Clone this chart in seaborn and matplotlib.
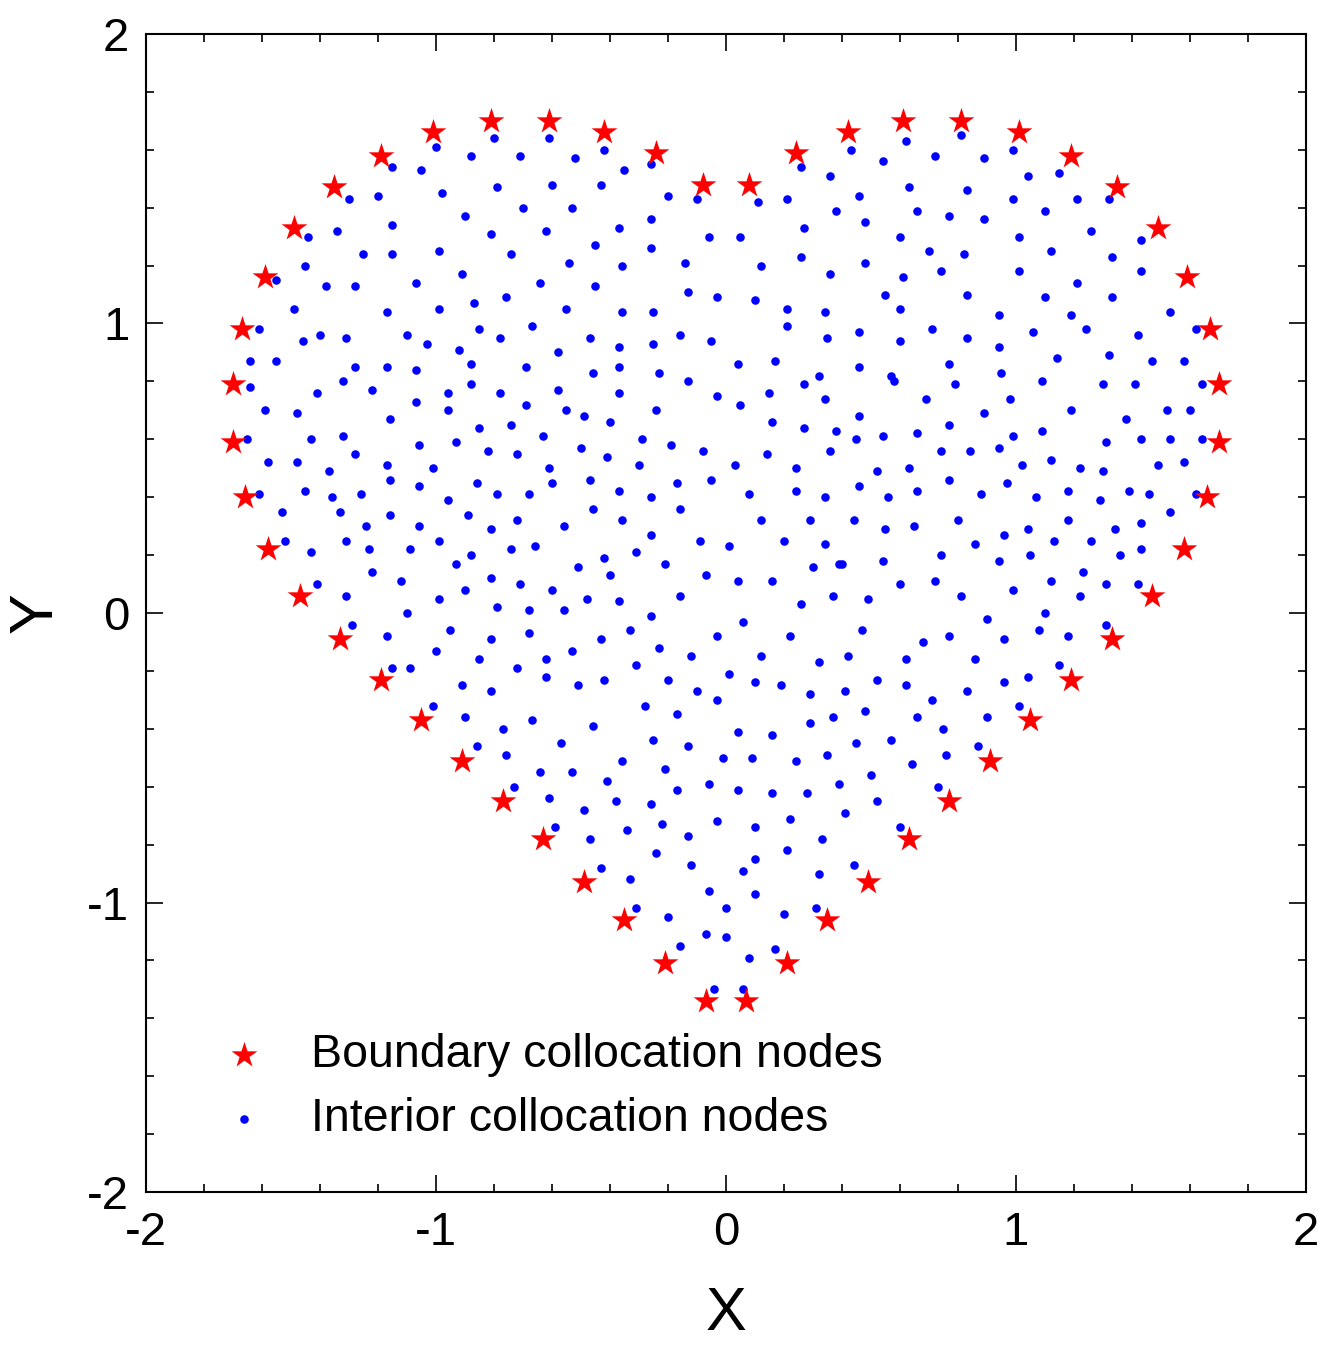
import numpy as np
import pandas as pd
import matplotlib
matplotlib.use("Agg")
import matplotlib.pyplot as plt
import seaborn as sns
from matplotlib.ticker import MultipleLocator

# boundary collocation nodes (red stars)
boundary_x = [-0.07, 0.07, -0.21, 0.21, -0.35, 0.35, -0.49, 0.49, -0.63, 0.63,
              -0.77, 0.77, -0.91, 0.91, -1.05, 1.05, -1.19, 1.19, -1.33, 1.33,
              -1.47, 1.47, -1.58, 1.58, -1.66, 1.66, -1.70, 1.70, -1.70, 1.70,
              -1.67, 1.67, -1.59, 1.59, -1.49, 1.49, -1.35, 1.35, -1.19, 1.19,
              -1.01, 1.01, -0.81, 0.81, -0.61, 0.61, -0.42, 0.42, -0.24, 0.24,
              -0.08, 0.08]
boundary_y = [-1.34, -1.34, -1.21, -1.21, -1.06, -1.06, -0.93, -0.93, -0.78, -0.78,
              -0.65, -0.65, -0.51, -0.51, -0.37, -0.37, -0.23, -0.23, -0.09, -0.09,
              0.06, 0.06, 0.22, 0.22, 0.40, 0.40, 0.59, 0.59, 0.79, 0.79,
              0.98, 0.98, 1.16, 1.16, 1.33, 1.33, 1.47, 1.47, 1.58, 1.58,
              1.66, 1.66, 1.70, 1.70, 1.70, 1.70, 1.66, 1.66, 1.59, 1.59,
              1.48, 1.48]

# interior collocation nodes (blue dots), approximate readings
interior = [
    (-1.0, 1.61), (-0.80, 1.64), (-0.61, 1.64), (-0.42, 1.60), (-0.88, 1.58), (-0.71, 1.58),
    (-0.52, 1.57), (-0.26, 1.55), (0.62, 1.63), (0.81, 1.65), (0.43, 1.60), (0.99, 1.60),
    (0.54, 1.56), (0.72, 1.58), (0.89, 1.57), (0.26, 1.54),
    (-1.15, 1.54), (-1.05, 1.53), (-0.98, 1.45), (-0.79, 1.47), (-0.60, 1.48), (-0.43, 1.48),
    (-0.35, 1.53), (-1.30, 1.43), (-1.20, 1.44), (-0.20, 1.44), (-0.10, 1.43),
    (0.11, 1.42), (0.21, 1.43), (0.36, 1.51), (0.46, 1.44), (0.63, 1.47), (0.83, 1.46),
    (1.04, 1.51), (1.15, 1.52), (1.21, 1.43), (1.32, 1.43), (0.99, 1.43),
    (-1.44, 1.30), (-1.34, 1.32), (-1.15, 1.34), (-0.90, 1.37), (-0.70, 1.40), (-0.53, 1.40),
    (-0.37, 1.33), (-0.26, 1.36), (-0.06, 1.30), (-0.62, 1.32), (-0.81, 1.31), (-0.99, 1.25),
    (-1.15, 1.24), (-1.25, 1.24), (-0.74, 1.24), (-0.45, 1.27), (-0.26, 1.26), (0.05, 1.30),
    (0.12, 1.20), (0.27, 1.33), (0.38, 1.39), (0.48, 1.35), (0.60, 1.30), (0.66, 1.39),
    (0.77, 1.37), (0.89, 1.36), (1.01, 1.30), (1.10, 1.39), (1.26, 1.32), (1.33, 1.23),
    (1.43, 1.29), (0.26, 1.23), (0.48, 1.21), (0.70, 1.25), (0.82, 1.24), (1.12, 1.25),
    (-1.55, 1.15), (-1.45, 1.20), (-1.38, 1.13), (-1.28, 1.13), (-1.07, 1.14), (-0.91, 1.17),
    (-0.64, 1.14), (-0.54, 1.21), (-0.45, 1.13), (-0.36, 1.20), (-0.14, 1.21), (-0.03, 1.09),
    (-0.13, 1.11), (-0.87, 1.07), (-0.76, 1.09), (-0.99, 1.05), (-1.17, 1.04), (-1.49, 1.05),
    (-0.55, 1.05), (-0.25, 1.04), (-0.36, 1.04),
    (0.10, 1.08), (0.21, 1.05), (0.36, 1.17), (0.61, 1.16), (0.55, 1.10), (0.74, 1.18),
    (0.83, 1.10), (1.01, 1.18), (1.10, 1.09), (1.21, 1.14), (1.43, 1.18), (1.33, 1.09),
    (1.53, 1.04), (0.34, 1.04), (0.60, 1.05), (0.94, 1.03), (1.19, 1.03),
    (-1.61, 0.98), (-1.64, 0.87), (-1.55, 0.87), (-1.46, 0.94), (-1.31, 0.95), (-1.10, 0.96),
    (-1.28, 0.85), (-1.17, 0.85), (-1.03, 0.93), (-0.92, 0.91), (-0.85, 0.98), (-0.78, 0.95),
    (-0.67, 0.99), (-0.69, 0.85), (-0.58, 0.90), (-0.47, 0.95), (-0.37, 0.92), (-0.25, 0.93),
    (-0.16, 0.96), (-0.05, 0.94), (-0.46, 0.83), (-0.37, 0.85), (-0.23, 0.83), (0.04, 0.86),
    (-0.88, 0.86), (-1.07, 0.84), (-1.40, 0.96),
    (0.21, 0.99), (0.35, 0.95), (0.17, 0.87), (0.46, 0.97), (0.32, 0.82), (0.46, 0.85),
    (0.60, 0.94), (0.71, 0.98), (0.83, 0.95), (0.94, 0.92), (1.06, 0.97), (1.14, 0.88),
    (1.24, 0.98), (1.32, 0.89), (1.42, 0.96), (1.58, 0.87), (1.62, 0.98), (0.77, 0.86),
    (0.95, 0.83), (1.47, 0.87), (0.57, 0.82),
    (-1.64, 0.78), (-1.59, 0.70), (-1.48, 0.69), (-1.41, 0.76), (-1.32, 0.80), (-1.22, 0.77),
    (-1.07, 0.73), (-0.96, 0.76), (-0.78, 0.76), (-0.88, 0.79), (-0.69, 0.72), (-0.58, 0.77),
    (-0.49, 0.68), (-0.37, 0.76), (-0.24, 0.70), (-0.13, 0.80), (-0.03, 0.75), (0.05, 0.72),
    (-0.55, 0.70), (-0.29, 0.60), (-0.40, 0.66), (-0.96, 0.70), (-1.16, 0.67), (-0.85, 0.64),
    (-0.74, 0.65), (-0.63, 0.61), (-1.32, 0.61), (-1.43, 0.60),
    (0.15, 0.76), (0.27, 0.79), (0.34, 0.74), (0.46, 0.68), (0.58, 0.80), (0.69, 0.74),
    (0.79, 0.79), (0.89, 0.69), (0.98, 0.74), (1.09, 0.80), (1.19, 0.70), (1.30, 0.79),
    (1.41, 0.79), (1.52, 0.70), (1.60, 0.70), (1.64, 0.79), (1.38, 0.67), (0.99, 0.61),
    (1.09, 0.63), (0.77, 0.65), (0.66, 0.62), (0.54, 0.61), (0.38, 0.63), (0.27, 0.64),
    (0.16, 0.66), (1.31, 0.59), (1.43, 0.60), (1.53, 0.60), (1.64, 0.60),
    (-1.65, 0.60), (-1.58, 0.52), (-1.48, 0.52), (-1.37, 0.49), (-1.28, 0.55), (-1.17, 0.51),
    (-1.06, 0.58), (-1.01, 0.50), (-0.93, 0.59), (-0.82, 0.56), (-0.72, 0.55), (-0.61, 0.50),
    (-0.50, 0.57), (-0.41, 0.54), (-0.30, 0.51), (-0.19, 0.58), (-0.08, 0.56), (0.03, 0.51),
    (-1.61, 0.41), (-1.53, 0.35), (-1.45, 0.42), (-1.36, 0.40), (-1.26, 0.41), (-1.16, 0.46),
    (-1.06, 0.44), (-0.96, 0.39), (-0.86, 0.45), (-0.79, 0.41), (-0.68, 0.41), (-0.60, 0.45),
    (-0.47, 0.46), (-0.37, 0.42), (-0.26, 0.40), (-0.17, 0.45), (-0.05, 0.46),
    (0.14, 0.55), (0.24, 0.50), (0.36, 0.56), (0.45, 0.60), (0.52, 0.49), (0.63, 0.50),
    (0.74, 0.56), (0.84, 0.56), (0.94, 0.57), (1.02, 0.51), (1.12, 0.53), (1.22, 0.50),
    (1.30, 0.49), (1.39, 0.42), (1.49, 0.51), (1.58, 0.52), (1.62, 0.41), (1.53, 0.35),
    (1.46, 0.41), (1.29, 0.39), (1.18, 0.42), (1.07, 0.40), (0.97, 0.45), (0.88, 0.41),
    (0.77, 0.46), (0.66, 0.42), (0.56, 0.40), (0.46, 0.44), (0.34, 0.40), (0.24, 0.42),
    (0.08, 0.41),
    (-1.52, 0.25), (-1.43, 0.21), (-1.33, 0.35), (-1.24, 0.30), (-1.31, 0.25), (-1.16, 0.34),
    (-1.06, 0.30), (-0.99, 0.25), (-0.89, 0.34), (-0.81, 0.29), (-0.72, 0.32), (-0.66, 0.23),
    (-0.56, 0.30), (-0.46, 0.36), (-0.36, 0.32), (-0.26, 0.27), (-0.16, 0.36), (-0.09, 0.25),
    (0.01, 0.23), (0.12, 0.32), (-1.23, 0.22), (-1.09, 0.22), (-0.88, 0.20), (-0.74, 0.22),
    (-0.51, 0.16), (-0.42, 0.19), (-0.31, 0.21), (-0.21, 0.17),
    (0.20, 0.25), (0.29, 0.32), (0.34, 0.24), (0.44, 0.32), (0.55, 0.29), (0.65, 0.30),
    (0.74, 0.20), (0.80, 0.32), (0.86, 0.24), (0.96, 0.27), (1.04, 0.29), (1.13, 0.25),
    (1.18, 0.32), (1.26, 0.25), (1.34, 0.29), (1.43, 0.22), (1.43, 0.31), (0.30, 0.16),
    (0.40, 0.17), (0.54, 0.18), (0.94, 0.18), (1.05, 0.20), (1.23, 0.14), (1.36, 0.20),
    (-1.41, 0.10), (-1.31, 0.06), (-1.22, 0.14), (-1.12, 0.11), (-1.10, 0.00), (-0.99, 0.05),
    (-0.93, 0.17), (-0.90, 0.08), (-0.81, 0.12), (-0.79, 0.02), (-0.71, 0.10), (-0.60, 0.08),
    (-0.56, 0.01), (-0.48, 0.05), (-0.40, 0.13), (-0.37, 0.04), (-0.26, -0.01), (-0.16, 0.06),
    (-0.07, 0.13), (0.04, 0.11), (0.16, 0.11), (-0.68, 0.01),
    (0.26, 0.03), (0.37, 0.06), (0.39, 0.17), (0.49, 0.05), (0.60, 0.10), (0.72, 0.11),
    (0.81, 0.06), (0.90, -0.02), (0.99, 0.08), (1.12, 0.11), (1.10, 0.00), (1.22, 0.06),
    (1.31, 0.10), (1.42, 0.10), (1.31, -0.04),
    (-1.29, -0.04), (-1.17, -0.08), (-1.09, -0.19), (-1.15, -0.19), (-1.00, -0.13), (-0.95, -0.06),
    (-0.85, -0.16), (-0.81, -0.09), (-0.68, -0.07), (-0.62, -0.16), (-0.53, -0.13), (-0.43, -0.09),
    (-0.33, -0.06), (-0.23, -0.12), (-0.12, -0.15), (-0.03, -0.08), (0.06, -0.03), (-0.72, -0.19),
    (-0.62, -0.22), (-0.51, -0.25), (-0.42, -0.23), (-0.31, -0.18), (-0.20, -0.23), (-0.10, -0.27),
    (0.01, -0.21), (-1.01, -0.32), (-0.91, -0.25), (-0.81, -0.27),
    (0.12, -0.15), (0.22, -0.08), (0.32, -0.17), (0.42, -0.15), (0.47, -0.06), (0.52, -0.23),
    (0.62, -0.16), (0.68, -0.10), (0.77, -0.08), (0.86, -0.16), (0.96, -0.09), (1.08, -0.06),
    (1.18, -0.08), (1.15, -0.18), (1.04, -0.22), (0.96, -0.24), (0.83, -0.27), (0.71, -0.30),
    (0.62, -0.25), (0.41, -0.27), (0.29, -0.28), (0.19, -0.25), (0.10, -0.24), (1.01, -0.32),
    (-0.90, -0.36), (-0.86, -0.46), (-0.77, -0.40), (-0.76, -0.49), (-0.67, -0.37), (-0.64, -0.55),
    (-0.57, -0.45), (-0.46, -0.39), (-0.53, -0.55), (-0.41, -0.58), (-0.36, -0.51), (-0.28, -0.32),
    (-0.25, -0.44), (-0.17, -0.35), (-0.13, -0.46), (-0.03, -0.30), (0.04, -0.41), (-0.01, -0.50),
    (-0.21, -0.54), (0.09, -0.50), (-0.73, -0.60),
    (0.16, -0.42), (0.24, -0.51), (0.29, -0.38), (0.35, -0.49), (0.37, -0.36), (0.48, -0.34),
    (0.45, -0.45), (0.57, -0.44), (0.66, -0.36), (0.75, -0.40), (0.76, -0.49), (0.87, -0.46),
    (0.90, -0.36), (0.64, -0.52), (0.50, -0.56), (0.39, -0.59), (0.73, -0.60),
    (-0.61, -0.64), (-0.59, -0.74), (-0.49, -0.68), (-0.47, -0.78), (-0.38, -0.65), (-0.26, -0.66),
    (-0.17, -0.61), (-0.06, -0.59), (0.04, -0.61), (-0.34, -0.75), (-0.22, -0.73), (-0.13, -0.77),
    (-0.03, -0.72), (-0.43, -0.88), (-0.33, -0.92), (-0.24, -0.83), (-0.12, -0.87), (-0.06, -0.96),
    (0.06, -0.89), (-0.31, -1.02), (-0.20, -1.05), (-0.07, -1.11), (0.00, -1.02), (-0.16, -1.15),
    (0.00, -1.12), (-0.04, -1.30), (0.06, -1.30), (0.08, -1.19),
    (0.16, -0.62), (0.22, -0.71), (0.28, -0.62), (0.33, -0.78), (0.41, -0.69), (0.52, -0.65),
    (0.60, -0.74), (0.10, -0.74), (0.21, -0.82), (0.32, -0.90), (0.44, -0.87), (0.10, -0.85),
    (0.10, -0.97), (0.20, -1.04), (0.31, -1.02), (0.17, -1.16),
]
interior_x = [p[0] for p in interior]
interior_y = [p[1] for p in interior]

df_b = pd.DataFrame({"x": boundary_x, "y": boundary_y})
df_i = pd.DataFrame({"x": interior_x, "y": interior_y})

sns.set_style("ticks")
plt.rcParams['font.family'] = ['Liberation Sans', 'DejaVu Sans']
plt.rcParams['axes.unicode_minus'] = False
plt.rcParams['text.color'] = 'black'
plt.rcParams['axes.labelcolor'] = 'black'
plt.rcParams['xtick.color'] = 'black'
plt.rcParams['ytick.color'] = 'black'

fig = plt.figure(figsize=(13.44, 13.58), dpi=100)
ax = fig.add_axes([0.1086, 0.1222, 0.8631, 0.8528])

sns.scatterplot(data=df_b, x="x", y="y", ax=ax, marker="*", s=380, color="red",
                edgecolor="red", linewidth=0, label="Boundary collocation nodes", zorder=3)
sns.scatterplot(data=df_i, x="x", y="y", ax=ax, marker="o", s=38, color="blue",
                edgecolor="blue", linewidth=0, label="Interior collocation nodes", zorder=2)

ax.set_xlim(-2, 2)
ax.set_ylim(-2, 2)
ax.set_xticks([-2, -1, 0, 1, 2])
ax.set_yticks([-2, -1, 0, 1, 2])
ax.xaxis.set_minor_locator(MultipleLocator(0.2))
ax.yaxis.set_minor_locator(MultipleLocator(0.2))
ax.tick_params(which="both", direction="in", top=True, right=True, bottom=True, left=True,
               labelsize=34, width=1.2)
ax.tick_params(which="major", length=12)
ax.tick_params(which="minor", length=6)
ax.tick_params(axis="x", pad=14)
ax.tick_params(axis="y", pad=12)
for s in ax.spines.values():
    s.set_linewidth(1.5)
    s.set_color("black")
ax.set_xlabel("X", fontsize=44, labelpad=22)
ax.set_ylabel("Y", fontsize=44, labelpad=16)

ax.legend(loc="lower left", bbox_to_anchor=(0.008, 0.008), frameon=False, fontsize=33.5,
          handletextpad=0.45, markerscale=1.0, labelspacing=0.42)

fig.savefig("out.png", dpi=100)
